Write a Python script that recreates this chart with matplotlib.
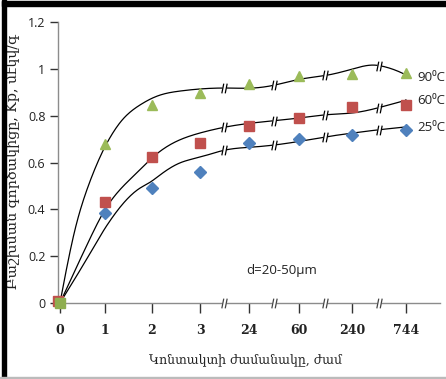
import numpy as np
import matplotlib
matplotlib.use("Agg")
import matplotlib.pyplot as plt
from matplotlib.path import Path
from matplotlib.patches import Rectangle

# ---------------- data ----------------
categories = ["0", "1", "2", "3", "24", "60", "240", "744"]
series_labels = ["90⁰C", "60⁰C", "25⁰C"]
kp_90 = [0.0, 0.68, 0.845, 0.897, 0.935, 0.97, 0.978, 0.982]
kp_60 = [0.0, 0.43, 0.625, 0.683, 0.756, 0.79, 0.837, 0.845]
kp_25 = [0.0, 0.385, 0.49, 0.56, 0.683, 0.70, 0.717, 0.739]

# trend curves (read at fractional category index)
fit_idx_90 = [0, 0.33, 0.62, 1.02, 1.36, 1.74, 2.17, 2.58, 3.0, 3.55, 4.08, 4.5, 5.0, 5.58, 6.02, 6.4, 6.62, 6.85, 7.02]
fit_val_90 = [0, 0.31, 0.495, 0.675, 0.78, 0.845, 0.888, 0.905, 0.914, 0.918, 0.918, 0.93, 0.955, 0.975, 1.0, 1.016, 1.008, 0.99, 0.972]
fit_idx_60 = [0, 0.62, 1.02, 1.74, 2.02, 2.44, 3.0, 3.51, 4.08, 5.0, 5.58, 6.02, 6.39, 6.67, 7.02]
fit_val_60 = [0, 0.256, 0.405, 0.568, 0.623, 0.683, 0.726, 0.751, 0.769, 0.79, 0.805, 0.812, 0.828, 0.845, 0.867]
fit_idx_25 = [0, 0.62, 1.02, 1.74, 1.97, 2.17, 2.58, 3.0, 3.51, 4.08, 5.0, 5.58, 6.02, 6.47, 7.02]
fit_val_25 = [0, 0.196, 0.325, 0.49, 0.517, 0.547, 0.598, 0.623, 0.653, 0.666, 0.69, 0.712, 0.726, 0.739, 0.752]

break_idx = [3.5, 4.5, 5.5, 6.5]

# ---------------- layout ----------------
slot_x = np.array([0, 45, 92, 140, 189, 239, 292, 346]) / 49.0   # axis position of each category
colors = {"90": "#9BBB59", "60": "#C0504D", "25": "#4F81BD"}
AXC = "#8c8c8c"


def idx_to_x(idx):
    return np.interp(idx, np.arange(len(slot_x)), slot_x)


def cubic_spline(x, y, xs):
    x = np.asarray(x, float); y = np.asarray(y, float)
    n = len(x)
    h = np.diff(x)
    A = np.zeros((n, n)); b = np.zeros(n)
    A[0, 0] = 1; A[-1, -1] = 1
    for i in range(1, n - 1):
        A[i, i - 1] = h[i - 1]
        A[i, i] = 2 * (h[i - 1] + h[i])
        A[i, i + 1] = h[i]
        b[i] = 3 * ((y[i + 1] - y[i]) / h[i] - (y[i] - y[i - 1]) / h[i - 1])
    c = np.linalg.solve(A, b)
    out = np.empty_like(xs)
    for k, xv in enumerate(xs):
        i = min(max(np.searchsorted(x, xv) - 1, 0), n - 2)
        dx = xv - x[i]
        bb = (y[i + 1] - y[i]) / h[i] - h[i] * (2 * c[i] + c[i + 1]) / 3
        d = (c[i + 1] - c[i]) / (3 * h[i])
        out[k] = y[i] + bb * dx + c[i] * dx ** 2 + d * dx ** 3
    return out


slash = Path([(-2.2, -4), (-0.6, 4), (0.6, -4), (2.2, 4)],
             [Path.MOVETO, Path.LINETO, Path.MOVETO, Path.LINETO])

fig = plt.figure(figsize=(4.46, 3.79), dpi=100)
ax = fig.add_axes([58 / 446, 76 / 379, 382 / 446, 281 / 379])

# curves
for fi, fv in [(fit_idx_90, fit_val_90), (fit_idx_60, fit_val_60), (fit_idx_25, fit_val_25)]:
    t = np.linspace(fi[0], fi[-1], 400)
    v = cubic_spline(fi, fv, t)
    ax.plot(idx_to_x(t), v, color="black", lw=0.9, zorder=2)
    bv = cubic_spline(fi, fv, np.array(break_idx, float))
    bx = idx_to_x(np.array(break_idx))
    ax.plot(bx, bv, ls="none", marker="s", ms=3.2, mfc="white", mec="none", zorder=3)
    ax.plot(bx, bv, ls="none", marker=slash, ms=7, mec="black", mew=0.9, zorder=4)

# markers
xs = slot_x
ax.plot(xs[1:], kp_25[1:], ls="none", marker="D", ms=6, color=colors["25"], zorder=5)
ax.plot(xs[1:], kp_60[1:], ls="none", marker="s", ms=6.8, color=colors["60"], zorder=5)
ax.plot(xs[1:], kp_90[1:], ls="none", marker="^", ms=7.8, color=colors["90"], zorder=5)
ax.plot(xs[0] - 0.03, kp_60[0] + 0.01, marker="s", ms=6.5, color=colors["60"], zorder=6, clip_on=False)
ax.plot(xs[0], kp_90[0], marker="s", ms=6.5, color="#8fae50", zorder=7, clip_on=False)

# series labels
for lab, vals, dy in [(series_labels[0], kp_90, -3), (series_labels[1], kp_60, 3), (series_labels[2], kp_25, 2)]:
    ax.annotate(lab, (xs[-1], vals[-1]), xytext=(8, dy), textcoords="offset points",
                ha="left", va="center", fontsize=9.5, color="#222222",
                family=["Open Sans", "DejaVu Sans"], annotation_clip=False)

ax.text(idx_to_x(4.0) - 0.05, 0.14, "d=20-50µm", fontsize=9.5, color="#222222",
        family=["Open Sans", "DejaVu Sans"], ha="left", va="center")

# axes styling
ax.set_xlim(-0.04, 382 / 49.0 - 0.04)
ax.set_ylim(0, 1.2)
for s in ["top", "right"]:
    ax.spines[s].set_visible(False)
for s in ["left", "bottom"]:
    ax.spines[s].set_color(AXC)
    ax.spines[s].set_linewidth(1.0)
ax.set_xticks(xs)
ax.set_xticklabels(categories, fontsize=9, fontweight="bold", family="DejaVu Serif")
ax.set_yticks([0, 0.2, 0.4, 0.6, 0.8, 1.0, 1.2])
ax.set_yticklabels(["0", "0.2", "0.4", "0.6", "0.8", "1", "1.2"], fontsize=9,
                   family=["Open Sans", "DejaVu Sans"])
ax.tick_params(axis="x", direction="out", length=7, width=1.0, color="#333333", pad=8, labelcolor="#222222")
ax.tick_params(axis="y", direction="out", length=6, width=1.0, color="#333333", pad=3, labelcolor="#222222")

# axis breaks
bx = idx_to_x(np.array(break_idx))
ax.plot(bx, np.zeros_like(bx), ls="none", marker="s", ms=3.2, mfc="white", mec="none", zorder=3, clip_on=False)
ax.plot(bx, np.zeros_like(bx), ls="none", marker=slash, ms=7, mec="#444444", mew=0.9, zorder=4, clip_on=False)

ax.set_xlabel("Կոնտակտի ժամանակը, ժամ", fontsize=9, family=["DejaVu Serif", "DejaVu Sans"],
              color="#222222")
ax.set_ylabel("Բաշխման գործակիցը, Kp, մէկվ/գ", fontsize=10.3, family=["DejaVu Serif", "DejaVu Sans"],
              color="#222222")
ax.yaxis.set_label_coords(-38 / 382, 0.505)
ax.xaxis.set_label_coords(0.49, -50 / 281)

# frame
fig.patches.append(Rectangle((2 / 446, 0), 4 / 446, 1, transform=fig.transFigure, color="black", zorder=10))
fig.patches.append(Rectangle((2 / 446, 373 / 379), 1, 5 / 379, transform=fig.transFigure, color="black", zorder=10))
fig.patches.append(Rectangle((0, 1 / 379), 1, 1.2 / 379, transform=fig.transFigure, color="#bbbbbb", zorder=10))

fig.savefig("out.png", dpi=100)
